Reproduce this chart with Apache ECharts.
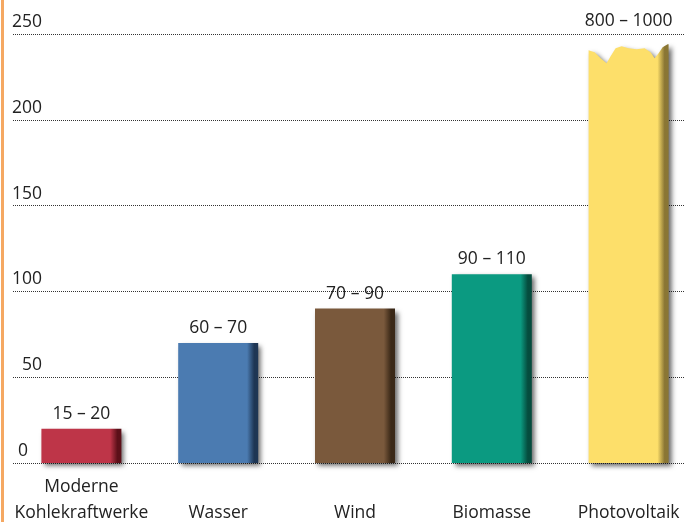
<!DOCTYPE html>
<html>
<head>
<meta charset="utf-8">
<style>
  html, body { margin: 0; padding: 0; background: #ffffff; overflow: hidden; }
  #chart { width: 697px; height: 522px; }
</style>
<script src="https://cdn.jsdelivr.net/npm/echarts@6/dist/echarts.min.js"></script>
</head>
<body>
<div id="chart"></div>
<script>
// Energy sources and their ranges
const categories = ['Moderne\nKohlekraftwerke', 'Wasser', 'Wind', 'Biomasse', 'Photovoltaik'];
const rangeLabels = ['15 – 20', '60 – 70', '70 – 90', '90 – 110', '800 – 1000'];
const upperValues = [20, 70, 90, 110, 1000];
const yTicks = [0, 50, 100, 150, 200, 250];

// Base colour and dark edge per bar
const barColors = ['#be3548', '#4b7bb1', '#7a593c', '#0b9a81', '#fddf6a'];
const edgeColors = ['#5c1019', '#1e3654', '#3a2817', '#054c3e', '#8a7634'];

const axisMax = 250;
// Bars that run past the axis are drawn broken just below the top line
const brokenAt = 244;

// Rectangle with a torn top edge for broken bars
const tornBar = 'path://M0,6 L6,8 L12,14 L18,19 L22,12 L27,4 L33,2 L40,4 L48,5 L56,4 L62,8 L66,14 L70,9 L74,3 L79,0 L80,0 L80,419 L0,419 Z';

function barGradient(i) {
  return new echarts.graphic.LinearGradient(0, 0, 1, 0, [
    { offset: 0, color: barColors[i] },
    { offset: 0.86, color: barColors[i] },
    { offset: 0.95, color: edgeColors[i] },
    { offset: 1, color: edgeColors[i] }
  ]);
}

const barData = upperValues.map((v, i) => {
  const broken = v > axisMax;
  const item = {
    value: broken ? brokenAt : v,
    symbol: broken ? tornBar : 'rect',
    itemStyle: { color: barGradient(i) }
  };
  if (broken) item.label = { distance: 14 };
  return item;
});

const fontFamily = '"Open Sans", "Noto Sans", sans-serif';
const textColor = '#222222';
const fontSize = 17.5;

const chart = echarts.init(document.getElementById('chart'), null, { renderer: 'canvas' });
chart.setOption({
  backgroundColor: '#ffffff',
  animation: false,
  graphic: [{
    type: 'rect',
    left: 1,
    top: 0,
    shape: { width: 3, height: 522 },
    style: { fill: '#f5a862' },
    z: 10
  }],
  grid: { left: 13, right: 0, top: 34, bottom: 59, containLabel: false, outerBoundsMode: 'none' },
  xAxis: {
    type: 'category',
    data: categories,
    axisLine: { show: false },
    axisTick: { show: false },
    axisLabel: {
      interval: 0,
      margin: 63,
      verticalAlign: 'bottom',
      fontFamily: fontFamily,
      fontSize: fontSize,
      lineHeight: 26,
      color: textColor
    }
  },
  yAxis: {
    type: 'value',
    min: yTicks[0],
    max: yTicks[yTicks.length - 1],
    interval: yTicks[1] - yTicks[0],
    axisLine: { show: false },
    axisTick: { show: false },
    splitLine: {
      show: true,
      lineStyle: { color: '#333333', width: 1, type: [1, 1] }
    },
    axisLabel: {
      inside: true,
      margin: -1,
      align: 'left',
      verticalAlign: 'bottom',
      formatter: function (val) {
        if (val === 0) return '{a|' + val + '}';
        if (val < 100) return '{b|' + val + '}';
        return '{c|' + val + '}';
      },
      rich: {
        a: { fontFamily: fontFamily, fontSize: fontSize, color: textColor, padding: [0, 0, 3, 6] },
        b: { fontFamily: fontFamily, fontSize: fontSize, color: textColor, padding: [0, 0, 3, 10] },
        c: { fontFamily: fontFamily, fontSize: fontSize, color: textColor, padding: [0, 0, 3, 0] }
      }
    }
  },
  series: [{
    type: 'pictorialBar',
    data: barData,
    symbolSize: [80, '100%'],
    symbolRepeat: false,
    itemStyle: {
      shadowColor: 'rgba(0,0,0,0.6)',
      shadowBlur: 5,
      shadowOffsetX: 3,
      shadowOffsetY: 3
    },
    label: {
      show: true,
      position: 'top',
      distance: 6,
      fontFamily: fontFamily,
      fontSize: fontSize,
      color: textColor,
      formatter: function (p) { return rangeLabels[p.dataIndex]; }
    },
    z: 3
  }]
});
</script>
</body>
</html>
